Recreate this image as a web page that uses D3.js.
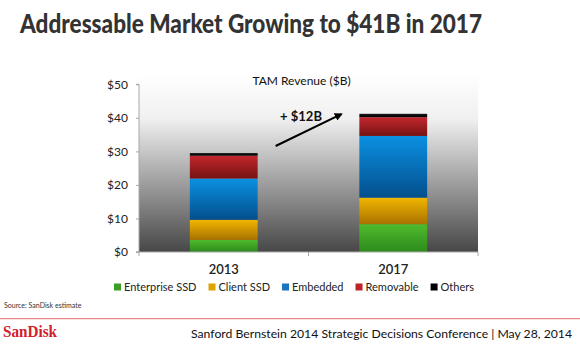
<!DOCTYPE html>
<html>
<head>
<meta charset="utf-8">
<script src="https://cdn.jsdelivr.net/npm/d3@7"></script>
<style>
  body { margin: 0; background: #fff; }
  svg { display: block; font-family: Lato, "Open Sans", sans-serif; }
</style>
</head>
<body>
<div id="chart"></div>
<script>
// TAM revenue by segment ($B)
var years = ["2013", "2017"];
var segments = ["Enterprise SSD", "Client SSD", "Embedded", "Removable", "Others"];
var enterpriseSSD = [3.6, 8.3];
var clientSSD = [6.0, 7.9];
var embedded = [12.3, 18.4];
var removable = [6.8, 5.6];
var others = [0.8, 1.0];
var yTicks = [0, 10, 20, 30, 40, 50];

var segColours = {
  "Enterprise SSD": ["#4fbb2c", "#2c8a1c", "#3b9f27"],
  "Client SSD": ["#f2b600", "#a87200", "#dba400"],
  "Embedded": ["#0b90e2", "#034f8c", "#1a76bd"],
  "Removable": ["#c4262c", "#751313", "#c0222a"],
  "Others": ["#1a1a1a", "#000000", "#000000"]
};

var width = 580, height = 349;
var plot = {left: 139, right: 478, top: 74, bottom: 252};

// build stack table from the series arrays
var table = years.map(function (y, i) {
  return {
    year: y,
    "Enterprise SSD": enterpriseSSD[i],
    "Client SSD": clientSSD[i],
    "Embedded": embedded[i],
    "Removable": removable[i],
    "Others": others[i]
  };
});
var stacked = d3.stack().keys(segments)(table);
var totals = table.map(function (d) {
  return d3.sum(segments, function (k) { return d[k]; });
});

var svg = d3.select("#chart").append("svg")
  .attr("width", width)
  .attr("height", height);

var defs = svg.append("defs");

// plot background fades from white to dark grey
var bg = defs.append("linearGradient")
  .attr("id", "plotBg")
  .attr("x1", 0).attr("y1", 0).attr("x2", 0).attr("y2", 1);
bg.append("stop").attr("offset", "0%").attr("stop-color", "#ffffff");
bg.append("stop").attr("offset", "25%").attr("stop-color", "#f0f0f0");
bg.append("stop").attr("offset", "100%").attr("stop-color", "#474747");

segments.forEach(function (k, i) {
  var g = defs.append("linearGradient")
    .attr("id", "seg" + i)
    .attr("x1", 0).attr("y1", 0).attr("x2", 0).attr("y2", 1);
  g.append("stop").attr("offset", "0%").attr("stop-color", segColours[k][0]);
  g.append("stop").attr("offset", "100%").attr("stop-color", segColours[k][1]);
});

var x = d3.scaleBand()
  .domain(years)
  .range([plot.left, plot.right])
  .paddingInner(0)
  .paddingOuter(0);

var y = d3.scaleLinear()
  .domain([0, 50])
  .range([252, 84.3]);

// title
svg.append("text")
  .attr("x", 20)
  .attr("y", 32.5)
  .attr("textLength", 462)
  .attr("lengthAdjust", "spacingAndGlyphs")
  .style("font-size", "26px")
  .style("font-weight", "900")
  .style("fill", "#333333")
  .text("Addressable Market Growing to $41B in 2017");

svg.append("rect")
  .attr("x", plot.left)
  .attr("y", plot.top)
  .attr("width", plot.right - plot.left)
  .attr("height", plot.bottom - plot.top)
  .attr("fill", "url(#plotBg)");

// y axis
var gy = svg.append("g")
  .attr("transform", "translate(" + plot.left + ",0)")
  .call(d3.axisLeft(y).tickValues(yTicks).tickSize(3).tickPadding(8)
    .tickFormat(function (d) { return "$" + d; }));
gy.select(".domain").attr("stroke", "#a8a8a8").attr("d", "M-3," + y(50) + "H0V" + y(0) + "H-3");
gy.selectAll(".tick line").attr("stroke", "#a8a8a8");
gy.selectAll(".tick text")
  .style("font-size", "12px")
  .style("font-family", "Lato, sans-serif")
  .style("fill", "#222");

// bars
var layers = svg.append("g").attr("class", "bars")
  .selectAll("g")
  .data(stacked)
  .enter().append("g")
  .attr("fill", function (d, i) { return "url(#seg" + i + ")"; });

var barW = x.bandwidth() * 0.4;
layers.selectAll("rect")
  .data(function (d) { return d; })
  .enter().append("rect")
  .attr("x", function (d) { return x(d.data.year) + (x.bandwidth() - barW) / 2; })
  .attr("width", barW)
  .attr("y", function (d) { return y(d[1]); })
  .attr("height", function (d) { return y(d[0]) - y(d[1]); });

// x axis baseline
var gx = svg.append("g")
  .attr("transform", "translate(0," + y(0) + ")");
gx.append("line")
  .attr("x1", plot.left - 3).attr("x2", plot.right)
  .attr("stroke", "#a8a8a8");
[plot.left, x(years[1]), plot.right].forEach(function (px) {
  gx.append("line")
    .attr("x1", px).attr("x2", px)
    .attr("y1", 0).attr("y2", 4)
    .attr("stroke", "#a8a8a8");
});
gx.selectAll(".cat")
  .data(years)
  .enter().append("text")
  .attr("class", "cat")
  .attr("x", function (d) { return x(d) + x.bandwidth() / 2; })
  .attr("y", 22)
  .attr("text-anchor", "middle")
  .style("font-size", "13px")
  .style("font-weight", "600")
  .style("fill", "#222")
  .text(function (d) { return d; });

// chart label
svg.append("text")
  .attr("x", 301.5)
  .attr("y", 85)
  .attr("text-anchor", "middle")
  .style("font-size", "12px")
  .style("fill", "#111")
  .text("TAM Revenue ($B)");

// growth arrow between the two totals
defs.append("marker")
  .attr("id", "arrowHead")
  .attr("viewBox", "0 0 10 10")
  .attr("refX", 8).attr("refY", 5)
  .attr("markerWidth", 4).attr("markerHeight", 4)
  .attr("orient", "auto")
  .append("path")
  .attr("d", "M0,0L10,5L0,10z")
  .attr("fill", "#000");

var x0 = x(years[0]) + (x.bandwidth() + barW) / 2 + 18;
var x1 = x(years[1]) + (x.bandwidth() - barW) / 2 - 18;
svg.append("line")
  .attr("x1", x0).attr("y1", y(31.6))
  .attr("x2", x1).attr("y2", y(41.1))
  .attr("stroke", "#000")
  .attr("stroke-width", 2)
  .attr("marker-end", "url(#arrowHead)");

svg.append("text")
  .attr("x", 280)
  .attr("y", 120.5)
  .attr("textLength", 42)
  .attr("lengthAdjust", "spacingAndGlyphs")
  .style("font-size", "13.5px")
  .style("font-weight", "bold")
  .style("fill", "#111")
  .text("+ $" + Math.round(totals[1] - totals[0]) + "B");

// legend
var legend = svg.append("g").attr("transform", "translate(0,287)");
var lx = 0;
var items = legend.selectAll("g")
  .data(segments)
  .enter().append("g");
items.append("rect")
  .attr("y", -3.5)
  .attr("width", 7).attr("height", 7)
  .attr("fill", function (d) { return segColours[d][2]; });
items.append("text")
  .attr("x", 10)
  .attr("y", 4)
  .style("font-size", "11px")
  .style("fill", "#222")
  .text(function (d) { return d; });
items.each(function () {
  var w = d3.select(this).select("text").node().getComputedTextLength();
  d3.select(this).attr("transform", "translate(" + lx + ",0)");
  lx += 10 + w + 12;
});
legend.attr("transform", "translate(" + (294 - (lx - 12) / 2) + ",287)");

// footer
svg.append("text")
  .attr("x", 4)
  .attr("y", 307.5)
  .style("font-size", "7px")
  .style("fill", "#333")
  .text("Source: SanDisk estimate");

svg.append("line")
  .attr("x1", 0).attr("x2", width)
  .attr("y1", 318.7).attr("y2", 318.7)
  .attr("stroke", "#e06a6a")
  .attr("stroke-width", 1);

svg.append("text")
  .attr("x", 3)
  .attr("y", 337)
  .attr("textLength", 54)
  .attr("lengthAdjust", "spacingAndGlyphs")
  .style("font-family", "'Liberation Serif', serif")
  .style("font-size", "17px")
  .style("font-weight", "bold")
  .style("fill", "#d2202a")
  .text("SanDisk");

svg.append("text")
  .attr("x", 191)
  .attr("y", 337.5)
  .attr("textLength", 381)
  .attr("lengthAdjust", "spacingAndGlyphs")
  .style("font-size", "12px")
  .style("fill", "#111")
  .text("Sanford Bernstein 2014 Strategic Decisions Conference | May 28, 2014");
</script>
</body>
</html>
